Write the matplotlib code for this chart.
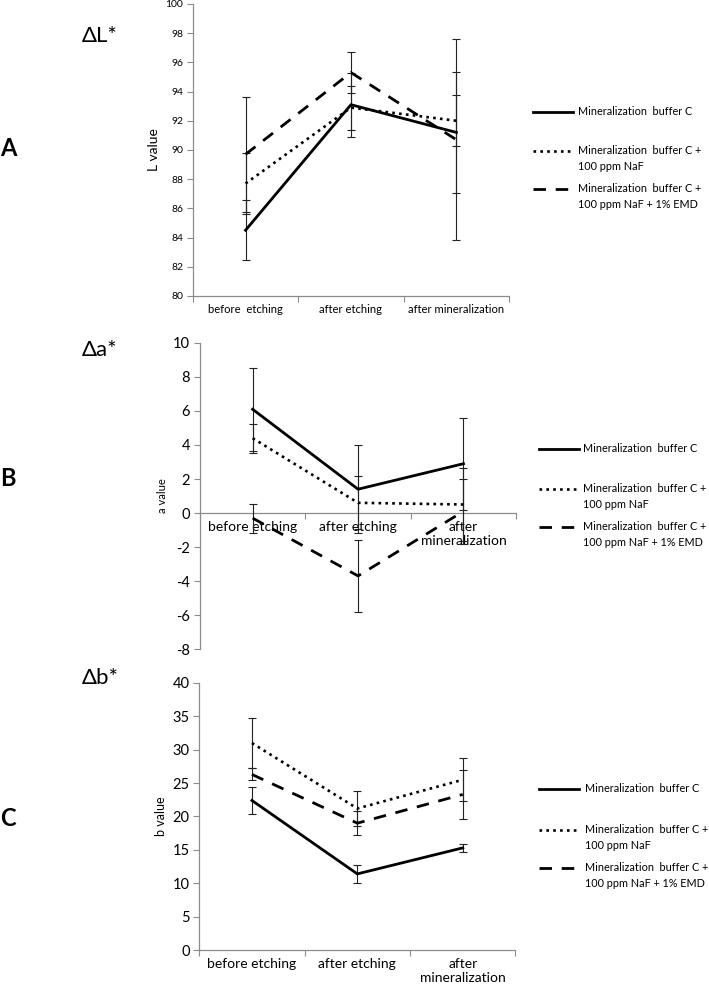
import numpy as np
import matplotlib
matplotlib.use("Agg")
import matplotlib.pyplot as plt
from matplotlib.lines import Line2D

plt.rcParams['font.family'] = ['Lato', 'DejaVu Sans']

categories = ["before  etching", "after etching", "after mineralization"]
categories_wrap = ["before etching", "after etching", "after\nmineralization"]
series_names = ["Mineralization  buffer C",
                "Mineralization  buffer C +\n100 ppm NaF",
                "Mineralization  buffer C +\n100 ppm NaF + 1% EMD"]

# L* values (solid, dotted, dashed)
L_solid = [84.5, 93.1, 91.2]
L_dotted = [87.7, 92.9, 92.0]
L_dashed = [89.7, 95.3, 90.7]
L_solid_err = [2.05, 2.2, 4.15]
L_dotted_err = [2.1, 1.5, 1.75]
L_dashed_err = [3.95, 1.4, 6.9]

# a* values
a_solid = [6.1, 1.4, 2.9]
a_dotted = [4.4, 0.6, 0.5]
a_dashed = [-0.3, -3.7, 0.1]
a_solid_err = [2.45, 2.6, 2.7]
a_dotted_err = [0.85, 1.55, 2.15]
a_dashed_err = [0.85, 2.1, 1.9]

# b* values
b_solid = [22.4, 11.4, 15.3]
b_dotted = [31.0, 21.2, 25.5]
b_dashed = [26.3, 19.0, 23.3]
b_solid_err = [2.05, 1.4, 0.65]
b_dotted_err = [3.75, 2.6, 3.2]
b_dashed_err = [0.9, 1.8, 3.7]

STYLES = [dict(ls='-', lw=2.0),
          dict(ls=(0, (1, 1.6)), lw=1.9),
          dict(ls=(0, (4.5, 3.5)), lw=2.0)]
GREY = '#8c8c8c'

fig = plt.figure(figsize=(7.09, 9.93), dpi=100)


def panel(rect, vals, errs, ylim, yticks, ylabel, cats, fs_tick, fs_xlab, fs_ylab, zero_axis=False):
    ax = fig.add_axes(rect)
    x = np.arange(3) + 0.5
    for v, e, st in zip(vals, errs, STYLES):
        ax.errorbar(x, v, yerr=e, color='black', ecolor='#222222', elinewidth=0.8,
                    capsize=3, capthick=0.8, zorder=3, **st)
    ax.set_xlim(0, 3)
    ax.set_ylim(*ylim)
    ax.set_yticks(yticks)
    ax.set_yticklabels([str(t) for t in yticks], fontsize=fs_tick)
    ax.set_xticks([0, 1, 2, 3])
    ax.set_xticklabels([])
    ax.set_xticks(x, minor=True)
    ax.set_xticklabels(cats, minor=True, fontsize=fs_xlab)
    ax.tick_params(axis='x', which='minor', length=0, pad=6)
    ax.tick_params(axis='x', which='major', length=4, color=GREY, direction='out')
    ax.tick_params(axis='y', length=4, color=GREY, direction='out', pad=3)
    for s in ['top', 'right']:
        ax.spines[s].set_visible(False)
    for s in ['left', 'bottom']:
        ax.spines[s].set_color(GREY)
        ax.spines[s].set_linewidth(0.9)
    if zero_axis:
        ax.spines['bottom'].set_position(('data', 0))
    ax.set_ylabel(ylabel, fontsize=fs_ylab, labelpad=4)
    return ax


axA = panel([0.272, 0.702, 0.446, 0.294],
            [L_solid, L_dotted, L_dashed], [L_solid_err, L_dotted_err, L_dashed_err],
            (80, 100), list(range(80, 101, 2)), "L value", categories, 7.5, 8.1, 10)
axB = panel([0.282, 0.3464, 0.446, 0.3082],
            [a_solid, a_dotted, a_dashed], [a_solid_err, a_dotted_err, a_dashed_err],
            (-8, 10), list(range(-8, 11, 2)), "a value", categories_wrap, 10.5, 10, 8, zero_axis=True)
axC = panel([0.281, 0.0433, 0.446, 0.2689],
            [b_solid, b_dotted, b_dashed], [b_solid_err, b_dotted_err, b_dashed_err],
            (0, 40), list(range(0, 41, 5)), "b value", categories_wrap, 10.5, 10, 9)


def px(xp, yp):
    return xp / 709.0, 1 - yp / 993.0


def legend(x0, x1, xt, ys, fs):
    for name, st, y in zip(series_names, STYLES, ys):
        a, b = px(x0, y)
        c, _ = px(x1, y)
        fig.add_artist(Line2D([a, c], [b, b], color='black', **st))
        tx, ty = px(xt, y - 6)
        fig.text(tx, ty, name, fontsize=fs, va='top', ha='left', linespacing=1.55)


legend(533, 573, 578, [112, 151, 189], 7.8)
legend(539, 579, 583, [449, 489, 527], 7.8)
legend(539, 579, 585, [789, 830, 868], 7.8)

for lab, y in [("A", 149), ("B", 478), ("C", 818)]:
    fig.text(*px(0, y), lab, fontsize=17, fontweight='bold', va='center', ha='left')
for lab, y in [("ΔL*", 36), ("Δa*", 350), ("Δb*", 678)]:
    fig.text(*px(82, y), lab, fontsize=16, va='center', ha='left')

fig.savefig("out.png", dpi=100)
